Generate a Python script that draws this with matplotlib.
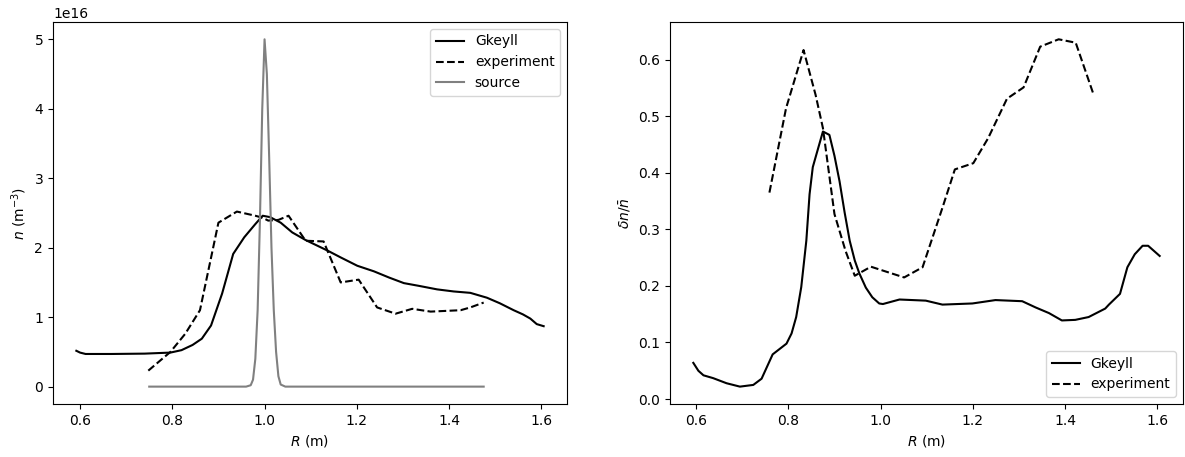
import numpy as np
import matplotlib
matplotlib.use('Agg')
import matplotlib.pyplot as plt

# density profile (left), units of 1e16 m^-3
R_gk = [0.592, 0.6, 0.612, 0.668, 0.74, 0.796, 0.82, 0.844, 0.864, 0.884, 0.908, 0.932,
        0.956, 0.98, 0.996, 1.012, 1.035, 1.06, 1.089, 1.136, 1.165, 1.201, 1.237,
        1.27, 1.302, 1.335, 1.374, 1.41, 1.446, 1.482, 1.51, 1.54, 1.56, 1.576,
        1.59, 1.605]
n_gk = [0.516, 0.49, 0.47, 0.47, 0.475, 0.49, 0.525, 0.6, 0.69, 0.88, 1.34, 1.91,
        2.15, 2.34, 2.46, 2.44, 2.36, 2.22, 2.11, 1.96, 1.86, 1.74, 1.66,
        1.57, 1.49, 1.45, 1.40, 1.37, 1.35, 1.28, 1.2, 1.10, 1.04, 0.98,
        0.9, 0.87]

R_exp = [0.748, 0.796, 0.828, 0.86, 0.9, 0.94, 0.98, 0.996, 1.008, 1.03, 1.052,
         1.089, 1.128, 1.165, 1.204, 1.244, 1.284, 1.32, 1.36, 1.425, 1.446, 1.475]
n_exp = [0.23, 0.50, 0.76, 1.10, 2.36, 2.52, 2.46, 2.43, 2.39, 2.40, 2.46,
         2.10, 2.09, 1.50, 1.54, 1.14, 1.05, 1.12, 1.08, 1.10, 1.14, 1.21]

R_src = [0.75, 0.96, 0.97, 0.975, 0.98, 0.985, 0.99, 0.995, 1.0, 1.005, 1.01,
         1.015, 1.02, 1.025, 1.03, 1.035, 1.045, 1.475]
n_src = [0, 0, 0.02, 0.1, 0.4, 1.1, 2.4, 4.0, 5.0, 4.5, 3.3,
         2.0, 1.1, 0.5, 0.15, 0.03, 0, 0]

# fluctuation level (right)
R_gk2 = [0.594, 0.605, 0.616, 0.637, 0.666, 0.695, 0.724, 0.742, 0.766, 0.796, 0.807,
         0.817, 0.828, 0.839, 0.846, 0.853, 0.861, 0.875, 0.889, 0.9, 0.911, 0.922,
         0.933, 0.944, 0.954, 0.968, 0.982, 0.997, 1.005, 1.041, 1.098, 1.134, 1.199,
         1.249, 1.307, 1.336, 1.365, 1.393, 1.422, 1.451, 1.487, 1.495, 1.519, 1.535,
         1.551, 1.568, 1.58, 1.605]
v_gk2 = [0.064, 0.05, 0.042, 0.037, 0.028, 0.022, 0.025, 0.036, 0.079, 0.098, 0.116,
         0.145, 0.198, 0.28, 0.362, 0.41, 0.433, 0.473, 0.467, 0.43, 0.385, 0.33,
         0.28, 0.245, 0.222, 0.197, 0.18, 0.169, 0.168, 0.176, 0.174, 0.167, 0.169,
         0.175, 0.173, 0.162, 0.152, 0.139, 0.14, 0.145, 0.160, 0.167, 0.186, 0.233,
         0.256, 0.271, 0.271, 0.253]

R_exp2 = [0.759, 0.795, 0.833, 0.859, 0.875, 0.9, 0.924, 0.944, 0.979, 1.051,
          1.091, 1.134, 1.161, 1.201, 1.233, 1.274, 1.31, 1.346, 1.386, 1.423, 1.461]
v_exp2 = [0.365, 0.514, 0.617, 0.538, 0.479, 0.327, 0.262, 0.218, 0.234, 0.215,
          0.233, 0.338, 0.406, 0.417, 0.461, 0.531, 0.551, 0.623, 0.636, 0.63, 0.54]

fig = plt.figure(figsize=(11.85, 4.57), dpi=100)
ax1 = fig.add_axes([0.0447, 0.116, 0.4338, 0.836])
ax2 = fig.add_axes([0.5654, 0.116, 0.4329, 0.836])

ax1.plot(R_gk, np.array(n_gk) * 1e16, 'k-', label='Gkeyll')
ax1.plot(R_exp, np.array(n_exp) * 1e16, 'k--', label='experiment')
ax1.plot(R_src, np.array(n_src) * 1e16, color='gray', label='source')
ax1.set_xlabel('$R$ (m)')
ax1.set_ylabel('$n$ (m$^{-3}$)')
ax1.legend(loc='upper right')

ax2.plot(R_gk2, v_gk2, 'k-', label='Gkeyll')
ax2.plot(R_exp2, v_exp2, 'k--', label='experiment')
ax2.set_xlabel('$R$ (m)')
ax2.set_ylabel(r'$\delta n/\bar{n}$')
ax2.legend(loc='lower right')

fig.savefig('out.png', dpi=100)
